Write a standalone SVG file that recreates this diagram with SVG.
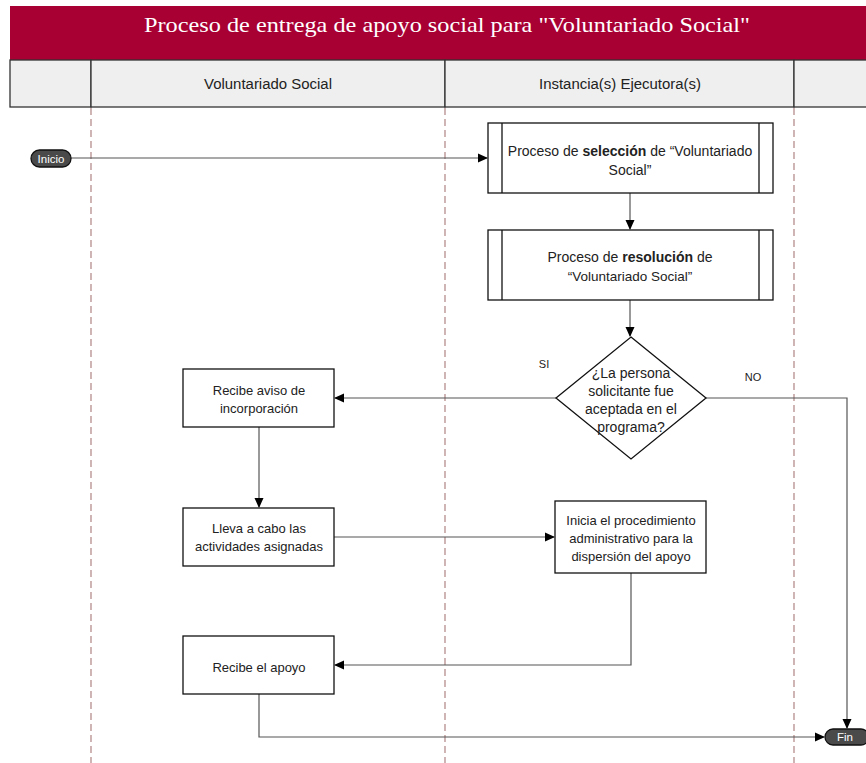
<svg xmlns="http://www.w3.org/2000/svg" width="866" height="763" viewBox="0 0 866 763">
<style>
.t{font-family:"Liberation Sans",Arial,sans-serif;fill:#222;text-anchor:middle}
.box{fill:#fff;stroke:#111;stroke-width:1.3}
.conn{fill:none;stroke:#555;stroke-width:1.2}
.lane{stroke:#b08484;stroke-width:1.2;stroke-dasharray:7,4}
.hdr{fill:#efefef;stroke:#333;stroke-width:1.3}
.pill{fill:#4a4a4a;stroke:#111;stroke-width:1.3}
.pt{font-family:"Liberation Sans",Arial,sans-serif;font-size:11.5px;fill:#fff;text-anchor:middle}
</style>
<defs>
<marker id="ah" markerWidth="10" markerHeight="10" refX="9" refY="5" orient="auto" markerUnits="userSpaceOnUse">
<path d="M0,0.5 L10,5 L0,9.5 Z" fill="#000"/>
</marker>
</defs>
<rect width="866" height="763" fill="#fff"/>
<g id="header">
<rect x="10" y="6" width="860" height="54" fill="#a90034"/>
<text x="447" y="32" font-family="'Liberation Serif',serif" font-size="22" fill="#fff" text-anchor="middle" textLength="606" lengthAdjust="spacingAndGlyphs">Proceso de entrega de apoyo social para "Voluntariado Social"</text>
<rect class="hdr" x="10" y="60" width="81" height="47"/>
<rect class="hdr" x="91" y="60" width="354" height="47"/>
<rect class="hdr" x="445" y="60" width="349" height="47"/>
<rect class="hdr" x="794" y="60" width="80" height="47"/>
<text class="t" x="268" y="89" font-size="14" textLength="128" lengthAdjust="spacingAndGlyphs">Voluntariado Social</text>
<text class="t" x="620" y="89" font-size="14" textLength="162" lengthAdjust="spacingAndGlyphs">Instancia(s) Ejecutora(s)</text>
</g>
<g id="lanes">
<line class="lane" x1="91" y1="108" x2="91" y2="763"/>
<line class="lane" x1="445" y1="108" x2="445" y2="763"/>
<line class="lane" x1="794" y1="108" x2="794" y2="763"/>
</g>
<g id="connectors">
<path class="conn" d="M71,158 H487" marker-end="url(#ah)"/>
<path class="conn" d="M630,193 V229" marker-end="url(#ah)"/>
<path class="conn" d="M630,300 V336" marker-end="url(#ah)"/>
<path class="conn" d="M556,398 H335" marker-end="url(#ah)"/>
<path class="conn" d="M706,398 H847 V728" marker-end="url(#ah)"/>
<path class="conn" d="M259,427 V507" marker-end="url(#ah)"/>
<path class="conn" d="M334,537 H554" marker-end="url(#ah)"/>
<path class="conn" d="M631,573 V665 H335" marker-end="url(#ah)"/>
<path class="conn" d="M259,694 V737 H824" marker-end="url(#ah)"/>
<text class="t" x="544" y="368" font-size="11">SI</text>
<text class="t" x="753" y="381" font-size="11">NO</text>
</g>
<g id="inicio">
<rect class="pill" x="31" y="150" width="40" height="17" rx="8.5"/>
<text class="pt" x="51" y="162.5">Inicio</text>
</g>
<g id="seleccion">
<rect class="box" x="488" y="123" width="285" height="70"/>
<line x1="502" y1="123" x2="502" y2="193" stroke="#111" stroke-width="1.3"/>
<line x1="759" y1="123" x2="759" y2="193" stroke="#111" stroke-width="1.3"/>
<text class="t" x="630" y="156" font-size="14">Proceso de <tspan font-weight="bold">selección</tspan> de “Voluntariado</text>
<text class="t" x="630" y="175" font-size="14">Social”</text>
</g>
<g id="resolucion">
<rect class="box" x="488" y="230" width="285" height="70"/>
<line x1="502" y1="230" x2="502" y2="300" stroke="#111" stroke-width="1.3"/>
<line x1="759" y1="230" x2="759" y2="300" stroke="#111" stroke-width="1.3"/>
<text class="t" x="630" y="262" font-size="14">Proceso de <tspan font-weight="bold">resolución</tspan> de</text>
<text class="t" x="630" y="281" font-size="13.5">“Voluntariado Social”</text>
</g>
<g id="decision">
<polygon class="box" points="631,337 706,398 631,459 556,398"/>
<text class="t" x="631" y="378" font-size="14">¿La persona</text>
<text class="t" x="631" y="396" font-size="14">solicitante fue</text>
<text class="t" x="631" y="414" font-size="14">aceptada en el</text>
<text class="t" x="631" y="432" font-size="14">programa?</text>
</g>
<g id="aviso">
<rect class="box" x="183" y="369" width="151" height="58"/>
<text class="t" x="259" y="395" font-size="13">Recibe aviso de</text>
<text class="t" x="259" y="413" font-size="13">incorporación</text>
</g>
<g id="actividades">
<rect class="box" x="183" y="508" width="151" height="58"/>
<text class="t" x="259" y="533" font-size="13">Lleva a cabo las</text>
<text class="t" x="259" y="551" font-size="13">actividades asignadas</text>
</g>
<g id="procedimiento">
<rect class="box" x="555" y="501" width="151" height="72"/>
<text class="t" x="631" y="525" font-size="13">Inicia el procedimiento</text>
<text class="t" x="631" y="543" font-size="13">administrativo para la</text>
<text class="t" x="631" y="561" font-size="13">dispersión del apoyo</text>
</g>
<g id="recibe">
<rect class="box" x="183" y="636" width="151" height="58"/>
<text class="t" x="259" y="672" font-size="13">Recibe el apoyo</text>
</g>
<g id="fin">
<rect class="pill" x="825" y="729" width="44" height="16" rx="8"/>
<text class="pt" x="845" y="741">Fin</text>
</g>
</svg>
